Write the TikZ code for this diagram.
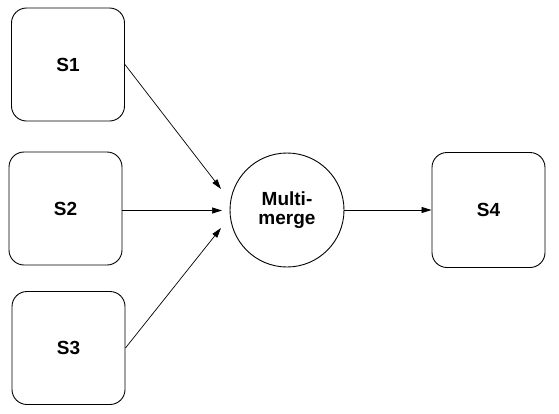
\documentclass[tikz,border=0pt]{standalone}
\usepackage{fontspec}
\setmainfont{Liberation Sans}
\usetikzlibrary{arrows.meta}
\begin{document}
\begin{tikzpicture}[x=1pt,y=-1pt,
  srcbox/.style={draw=black,line width=0.9pt,rounded corners=15pt,minimum width=113pt,minimum height=113pt,inner sep=0pt,font=\fontsize{19}{19}\selectfont\bfseries},
  mergecirc/.style={draw=black,line width=0.9pt,circle,minimum size=114pt,inner sep=0pt,align=center,font=\fontsize{19}{19}\selectfont\bfseries},
  conn/.style={draw=black,line width=0.7pt,-{Triangle[length=10pt,width=6pt]}}]
\useasboundingbox (0,0) rectangle (559,413);
\node[srcbox] (s1) at (68,64.5) {S1};
\node[srcbox] (s2) at (65.5,208.5) {S2};
\node[srcbox] (s3) at (68.5,348) {S3};
\node[srcbox,minimum height=115pt] (s4) at (488.5,210) {S4};
\node[mergecirc] (m) at (287,210) {Multi-\\merge};
\coordinate (e1) at (221,189);
\coordinate (e2) at (222,210.5);
\coordinate (e3) at (221,228);
\draw[conn] (s1.east) -- (e1);
\draw[conn] (s2.east |- e2) -- (e2);
\draw[conn] (s3.east) -- (e3);
\draw[conn] (m.east) -- (s4.west);
\end{tikzpicture}
\end{document}
